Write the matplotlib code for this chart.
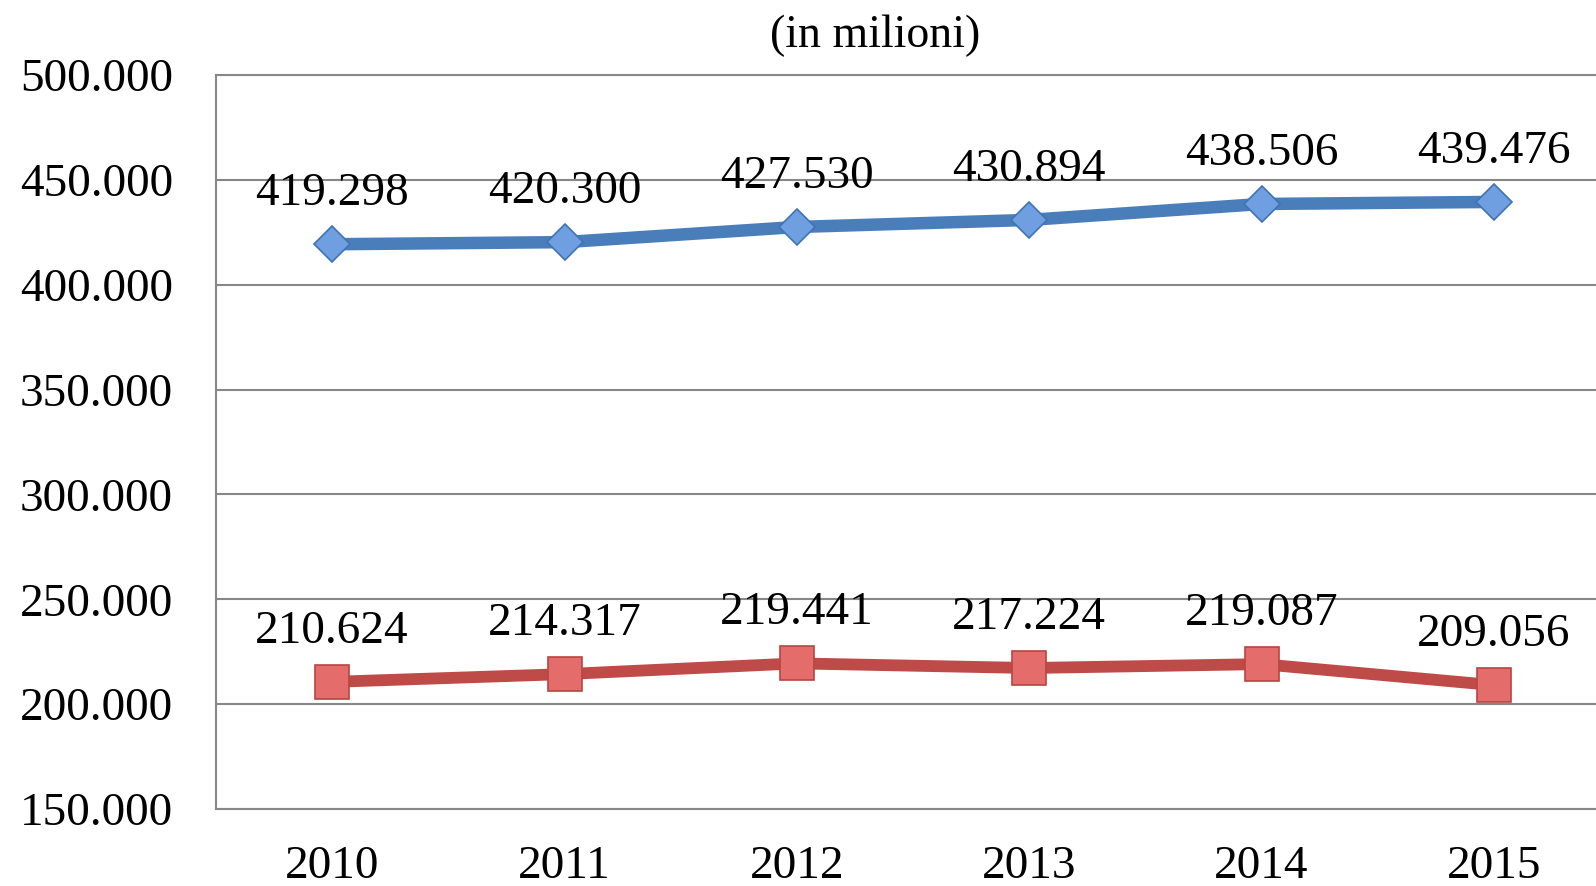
import matplotlib.pyplot as plt

plt.rcParams['font.family'] = ['Liberation Serif', 'DejaVu Serif']

years = ['2010', '2011', '2012', '2013', '2014', '2015']
blue_vals = [419.298, 420.300, 427.530, 430.894, 438.506, 439.476]
red_vals = [210.624, 214.317, 219.441, 217.224, 219.087, 209.056]
yticks = [150, 200, 250, 300, 350, 400, 450, 500]

fig = plt.figure(figsize=(15.96, 8.86), dpi=100)
ax = fig.add_axes([216/1596, 1 - 809/886, 1394/1596, 734/886])

x = range(len(years))
ax.plot(x, blue_vals, color='#4A7EBB', lw=9, marker='D', ms=18,
        mfc='#6F9FE0', mec='#3F72B5', mew=1.2, zorder=3)
ax.plot(x, red_vals, color='#BE4B48', lw=8.5, marker='s', ms=25,
        mfc='#E46C6A', mec='#B84542', mew=1.2, zorder=3)

for vals in (blue_vals, red_vals):
    for i, v in enumerate(vals):
        ax.annotate(f'{v:.3f}', (i, v), xytext=(0, 28), textcoords='offset points',
                    ha='center', va='baseline', fontsize=34, zorder=4)

ax.set_xlim(-0.5, 5.5)
ax.set_ylim(150, 500)
ax.set_yticks(yticks)
ax.set_yticklabels([f'{v}.000' for v in yticks])
ax.set_xticks(list(x))
ax.set_xticklabels(years)
ax.tick_params(axis='y', length=0, pad=31, labelsize=34)
ax.tick_params(axis='x', length=0, pad=26, labelsize=34)

ax.grid(axis='y', color='#878787', lw=1.5)
ax.set_axisbelow(True)
for s in ('right',):
    ax.spines[s].set_visible(False)
for s in ('left', 'bottom', 'top'):
    ax.spines[s].set_color('#878787')
    ax.spines[s].set_linewidth(1.5)

fig.text(875/1596, 1 - 47/886, '(in milioni)', ha='center', va='baseline', fontsize=33)

fig.savefig('out.png', dpi=100)
